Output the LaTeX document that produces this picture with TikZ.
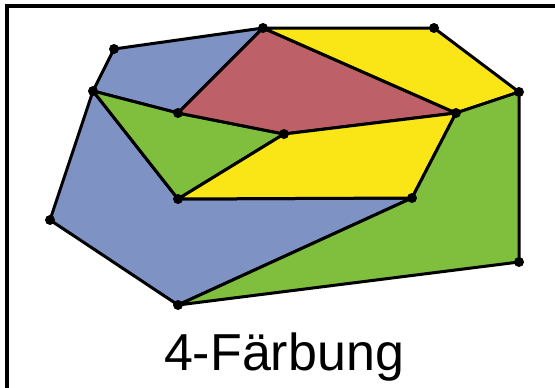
\documentclass[tikz,border=0pt]{standalone}
\usepackage{fontspec}
\setmainfont{Liberation Sans}
\definecolor{cblue}{RGB}{127,146,196}
\definecolor{cred}{RGB}{190,96,104}
\definecolor{cyellow}{RGB}{250,230,22}
\definecolor{cgreen}{RGB}{128,190,62}
\begin{document}
\begin{tikzpicture}[x=1pt,y=-1pt,
  region/.style={draw=black,line width=3pt,line join=round},
  vdot/.style={circle,fill=black,inner sep=0pt,minimum size=10pt}]
\useasboundingbox (0,0) rectangle (555,388);
\draw[line width=3.2pt] (7,392) -- (7,6) -- (560,6);
\coordinate (A) at (114,49);
\coordinate (B) at (263,28);
\coordinate (C) at (434,28);
\coordinate (D) at (519,92);
\coordinate (E) at (456,113);
\coordinate (F) at (93,91);
\coordinate (G) at (178,113);
\coordinate (H) at (284,134);
\coordinate (I) at (178,199);
\coordinate (J) at (412,198);
\coordinate (K) at (50,220);
\coordinate (L) at (178,305);
\coordinate (M) at (519,262);
\filldraw[region,fill=cblue] (A) -- (B) -- (G) -- (F) -- cycle;
\filldraw[region,fill=cblue] (F) -- (K) -- (L) -- (J) -- (I) -- cycle;
\filldraw[region,fill=cgreen] (F) -- (G) -- (H) -- (I) -- cycle;
\filldraw[region,fill=cred] (B) -- (E) -- (H) -- (G) -- cycle;
\filldraw[region,fill=cyellow] (B) -- (C) -- (D) -- (E) -- cycle;
\filldraw[region,fill=cyellow] (H) -- (E) -- (J) -- (I) -- cycle;
\filldraw[region,fill=cgreen] (E) -- (D) -- (M) -- (L) -- (J) -- cycle;
\foreach \v in {A,B,C,D,E,F,G,H,I,J,K,L,M}
  \node[vdot] (d\v) at (\v) {};
\node[font=\fontsize{52pt}{60pt}\selectfont,anchor=base] (title) at (284,370) {4-Färbung};
\end{tikzpicture}
\end{document}
